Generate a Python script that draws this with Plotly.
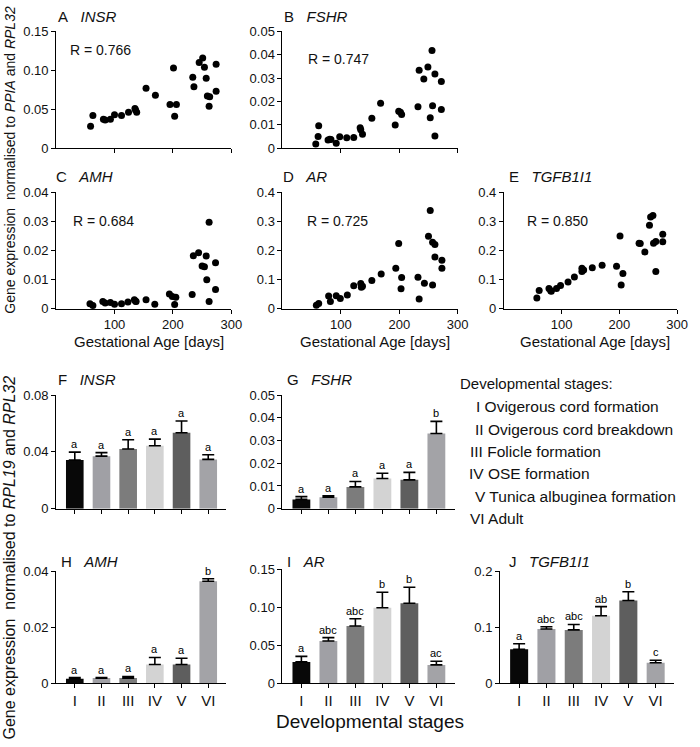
import plotly.graph_objects as go

W, H = 700, 747
FONT = "Liberation Sans, Arial, sans-serif"

# ---------------- scatter data (gestational age vs expression) ----------------
insr_days = [59, 63, 81, 84, 93, 100, 112, 124, 135, 136, 138, 154, 170, 195, 201, 206, 203,
             234, 236, 245, 251, 254, 257, 259, 263, 262, 274, 274]
insr_vals = [0.028, 0.042, 0.037, 0.036, 0.037, 0.043, 0.042, 0.046, 0.051, 0.049, 0.046, 0.077,
             0.068, 0.056, 0.103, 0.056, 0.041, 0.091, 0.079, 0.110, 0.116, 0.104, 0.090, 0.067,
             0.066, 0.054, 0.108, 0.073]

fshr_days = [57, 61, 62, 78, 81, 83, 92, 98, 110, 122, 133, 134, 137, 153, 168, 193, 199, 202, 204,
             232, 234, 242, 249, 256, 257, 253, 261, 261, 272, 272]
fshr_vals = [0.0018, 0.0050, 0.0096, 0.0035, 0.0038, 0.0037, 0.0021, 0.0049, 0.0044, 0.0045, 0.0087,
             0.0079, 0.0059, 0.0128, 0.0192, 0.0099, 0.0158, 0.0154, 0.0144, 0.0177, 0.0334, 0.0296,
             0.0348, 0.0418, 0.0182, 0.0130, 0.0052, 0.0318, 0.0166, 0.0286]

amh_days = [58, 63, 80, 84, 93, 100, 112, 123, 134, 136, 137, 154, 169, 194, 199, 205, 203,
            233, 235, 244, 250, 254, 257, 258, 262, 262, 273, 273]
amh_vals = [0.0017, 0.0011, 0.0025, 0.0020, 0.0022, 0.0016, 0.0017, 0.0023, 0.0031, 0.0026, 0.0025,
            0.0031, 0.0016, 0.0051, 0.0042, 0.0040, 0.0015, 0.0049, 0.0182, 0.0192, 0.0147, 0.0144,
            0.0181, 0.0100, 0.0297, 0.0025, 0.0158, 0.0066]

ar_days = [58, 62, 79, 82, 92, 99, 111, 122, 134, 135, 137, 153, 169, 194, 199, 204, 203,
           232, 234, 243, 250, 253, 257, 257, 261, 261, 273, 273]
ar_vals = [0.012, 0.018, 0.044, 0.025, 0.045, 0.035, 0.047, 0.079, 0.087, 0.074, 0.077, 0.097,
           0.119, 0.139, 0.224, 0.107, 0.069, 0.108, 0.034, 0.088, 0.249, 0.337, 0.228, 0.082,
           0.221, 0.178, 0.167, 0.139]

tgf_days = [57, 61, 78, 81, 82, 91, 98, 111, 122, 135, 135, 138, 153, 170, 195, 201, 206, 203,
            234, 236, 244, 252, 254, 258, 259, 263, 263, 275, 275]
tgf_vals = [0.037, 0.063, 0.070, 0.062, 0.060, 0.070, 0.080, 0.092, 0.109, 0.139, 0.128, 0.133,
            0.141, 0.149, 0.146, 0.250, 0.121, 0.082, 0.225, 0.224, 0.195, 0.287, 0.315, 0.320,
            0.225, 0.231, 0.128, 0.256, 0.230]

r_values = ["0.766", "0.747", "0.684", "0.725", "0.850"]

# ---------------- bar data (developmental stages) ----------------
stages = ["I", "II", "III", "IV", "V", "VI"]
insr_mean = [0.0343, 0.0370, 0.0420, 0.0443, 0.0535, 0.0347]
insr_sem = [0.0055, 0.0025, 0.0065, 0.0047, 0.0082, 0.0033]
insr_letters = ["a", "a", "a", "a", "a", "a"]

fshr_mean = [0.0041, 0.0051, 0.0096, 0.0133, 0.0127, 0.0331]
fshr_sem = [0.0012, 0.0006, 0.0024, 0.0023, 0.0033, 0.0053]
fshr_letters = ["a", "a", "a", "a", "a", "b"]

amh_mean = [0.0016, 0.0018, 0.0018, 0.0067, 0.0067, 0.0365]
amh_sem = [0.0004, 0.0002, 0.0006, 0.0025, 0.0022, 0.0009]
amh_letters = ["a", "a", "a", "a", "a", "b"]

ar_mean = [0.0280, 0.0556, 0.0754, 0.0995, 0.1055, 0.0241]
ar_sem = [0.0073, 0.0044, 0.0096, 0.0205, 0.0210, 0.0048]
ar_letters = ["a", "abc", "abc", "b", "b", "ac"]

tgf_mean = [0.0606, 0.0970, 0.0953, 0.1206, 0.1480, 0.0365]
tgf_sem = [0.0100, 0.0040, 0.0097, 0.0164, 0.0155, 0.0045]
tgf_letters = ["a", "abc", "abc", "ab", "b", "c"]

bar_colors = ["#080808", "#a0a0a5", "#7c7c7c", "#d3d3d3", "#5e5e5e", "#a3a3a7"]

legend_lines = ["I Ovigerous cord formation", "II Ovigerous cord breakdown", "III Folicle formation",
                "IV OSE formation", "V Tunica albuginea formation", "VI Adult"]

TXT = "#111111"


def px_x(p):
    return p / W


def px_y(p):
    return 1 - p / H


fig = go.Figure()
layout = dict(width=W, height=H, margin=dict(l=0, r=0, t=0, b=0),
              plot_bgcolor="white", paper_bgcolor="white", showlegend=False,
              font=dict(family=FONT, color=TXT))
annotations = []

scatter_panels = [
    ("A", "INSR", insr_days, insr_vals, (57, 235, 25, 144), [0, 0.05, 0.10, 0.15], ["0", "0.05", "0.10", "0.15"], False, (57, 10), (69, 44)),
    ("B", "FSHR", fshr_days, fshr_vals, (287, 465, 25, 144), [0, 0.01, 0.02, 0.03, 0.04, 0.05], ["0", "0.01", "0.02", "0.03", "0.04", "0.05"], False, (286, 10), (311, 53)),
    ("C", "AMH", amh_days, amh_vals, (57, 235, 189, 308), [0, 0.01, 0.02, 0.03, 0.04], ["0", "0.01", "0.02", "0.03", "0.04"], True, (55, 173), (72, 218)),
    ("D", "AR", ar_days, ar_vals, (287, 465, 189, 308), [0, 0.1, 0.2, 0.3, 0.4], ["0", "0.1", "0.2", "0.3", "0.4"], True, (285, 173), (310, 218)),
    ("E", "TGFB1I1", tgf_days, tgf_vals, (512, 688, 189, 308), [0, 0.1, 0.2, 0.3, 0.4], ["0", "0.1", "0.2", "0.3", "0.4"], True, (515, 173), (533, 218)),
]

idx = 0
for i, (lab, gene, dx, dy, box, tv, tt, showx, tpos, rpos) in enumerate(scatter_panels):
    idx += 1
    xa = "x" if idx == 1 else f"x{idx}"
    ya = "y" if idx == 1 else f"y{idx}"
    xk = "xaxis" if idx == 1 else f"xaxis{idx}"
    yk = "yaxis" if idx == 1 else f"yaxis{idx}"
    x0, x1, yt, yb = box
    fig.add_trace(go.Scatter(x=dx, y=dy, mode="markers", xaxis=xa, yaxis=ya, cliponaxis=False,
                             marker=dict(color="black", size=7)))
    layout[xk] = dict(domain=[px_x(x0), px_x(x1)], anchor=ya, range=[0, 300],
                      tickvals=[100, 200, 300], ticktext=["100", "200", "300"],
                      showticklabels=showx, ticks="outside", ticklen=4, tickcolor="black",
                      showline=True, linecolor="black", linewidth=1, showgrid=False, zeroline=False,
                      tickfont=dict(size=13, family=FONT, color=TXT))
    layout[yk] = dict(domain=[px_y(yb), px_y(yt)], anchor=xa, range=[0, tv[-1]],
                      tickvals=tv, ticktext=tt, ticks="outside", ticklen=4, tickcolor="black",
                      showline=True, linecolor="black", linewidth=1, showgrid=False, zeroline=False,
                      tickfont=dict(size=13, family=FONT, color=TXT))
    annotations.append(dict(text=f"{lab}&nbsp;&nbsp;&nbsp;<i>{gene}</i>", x=px_x(tpos[0]), y=px_y(tpos[1]),
                            xref="paper", yref="paper", xanchor="left", yanchor="middle",
                            showarrow=False, font=dict(size=15, family=FONT, color=TXT)))
    annotations.append(dict(text=f"R = {r_values[i]}", x=px_x(rpos[0]), y=px_y(rpos[1]),
                            xref="paper", yref="paper", xanchor="left", yanchor="middle",
                            showarrow=False, font=dict(size=14, family=FONT, color=TXT)))
    if showx:
        annotations.append(dict(text="Gestational Age [days]", x=px_x((x0 + x1) / 2 + 5), y=px_y(341),
                                xref="paper", yref="paper", xanchor="center", yanchor="middle",
                                showarrow=False, font=dict(size=15, family=FONT, color=TXT)))

bar_panels = [
    ("F", "INSR", insr_mean, insr_sem, insr_letters, (57, 230, 396, 512), [0, 0.04, 0.08], ["0", "0.04", "0.08"], False, (57, 380)),
    ("G", "FSHR", fshr_mean, fshr_sem, fshr_letters, (287, 462, 396, 512), [0, 0.01, 0.02, 0.03, 0.04, 0.05], ["0", "0.01", "0.02", "0.03", "0.04", "0.05"], False, (290, 380)),
    ("H", "AMH", amh_mean, amh_sem, amh_letters, (57, 230, 576, 690), [0, 0.02, 0.04], ["0", "0.02", "0.04"], True, (60, 566)),
    ("I", "AR", ar_mean, ar_sem, ar_letters, (287, 462, 574, 690), [0, 0.05, 0.10, 0.15], ["0", "0.05", "0.10", "0.15"], True, (290, 566)),
    ("J", "TGFB1I1", tgf_mean, tgf_sem, tgf_letters, (508, 685, 576, 690), [0, 0.1, 0.2], ["0", "0.1", "0.2"], True, (515, 566)),
]

for lab, gene, mean, sem, letters, box, tv, tt, showx, tpos in bar_panels:
    idx += 1
    xa, ya = f"x{idx}", f"y{idx}"
    xk, yk = f"xaxis{idx}", f"yaxis{idx}"
    x0, x1, yt, yb = box
    fig.add_trace(go.Bar(x=stages, y=mean, xaxis=xa, yaxis=ya, width=0.66,
                         marker=dict(color=bar_colors, line=dict(width=0)),
                         error_y=dict(type="data", symmetric=False, array=sem,
                                      arrayminus=[0] * len(sem), color="black", thickness=1.6, width=6)))
    layout[xk] = dict(domain=[px_x(x0), px_x(x1)], anchor=ya, range=[-0.7, 5.68],
                      type="category", showticklabels=showx, ticks="outside", ticklen=4, tickcolor="black",
                      showline=True, linecolor="black", linewidth=1, showgrid=False, zeroline=False,
                      tickfont=dict(size=15, family=FONT, color=TXT))
    layout[yk] = dict(domain=[px_y(yb), px_y(yt)], anchor=xa, range=[0, tv[-1]],
                      tickvals=tv, ticktext=tt, ticks="outside", ticklen=4, tickcolor="black",
                      showline=True, linecolor="black", linewidth=1, showgrid=False, zeroline=False,
                      tickfont=dict(size=13, family=FONT, color=TXT))
    for s, m, e, l in zip(stages, mean, sem, letters):
        annotations.append(dict(text=l, x=s, y=m + e, xref=xa, yref=ya, xanchor="center",
                                yanchor="bottom", yshift=0, showarrow=False,
                                font=dict(size=11, family=FONT, color="#000000")))
    annotations.append(dict(text=f"{lab}&nbsp;&nbsp;&nbsp;<i>{gene}</i>", x=px_x(tpos[0]), y=px_y(tpos[1]),
                            xref="paper", yref="paper", xanchor="left", yanchor="middle",
                            showarrow=False, font=dict(size=15, family=FONT, color=TXT)))

# legend text block
annotations.append(dict(text="Developmental stages:", x=px_x(465), y=px_y(384), xref="paper", yref="paper",
                        xanchor="left", yanchor="middle", showarrow=False,
                        font=dict(size=15, family=FONT, color=TXT)))
leg_x = [482, 481, 475, 474, 481, 475]
for k, line in enumerate(legend_lines):
    annotations.append(dict(text=line, x=px_x(leg_x[k]), y=px_y(408 + k * 22.8), xref="paper", yref="paper",
                            xanchor="left", yanchor="middle", showarrow=False,
                            font=dict(size=15.5, family=FONT, color=TXT)))

# axis titles
annotations.append(dict(text="Gene expression&nbsp;&nbsp;normalised to <i>PPIA</i> and <i>RPL32</i>",
                        x=px_x(10), y=px_y(156), xref="paper", yref="paper", textangle=-90,
                        xanchor="center", yanchor="middle", showarrow=False,
                        font=dict(size=14, family=FONT, color=TXT)))
annotations.append(dict(text="Gene expression&nbsp;&nbsp;normalised to <i>RPL19</i> and <i>RPL32</i>",
                        x=px_x(10), y=px_y(562), xref="paper", yref="paper", textangle=-90,
                        xanchor="center", yanchor="middle", showarrow=False,
                        font=dict(size=16, family=FONT, color=TXT)))
annotations.append(dict(text="Developmental stages", x=px_x(376), y=px_y(729), xref="paper", yref="paper",
                        xanchor="center", yanchor="middle", showarrow=False,
                        font=dict(size=19, family=FONT, color=TXT)))

layout["annotations"] = annotations
fig.update_layout(**layout)
fig.write_html("out.html", config={"displayModeBar": False},
               post_script="document.body.style.margin='0';")
